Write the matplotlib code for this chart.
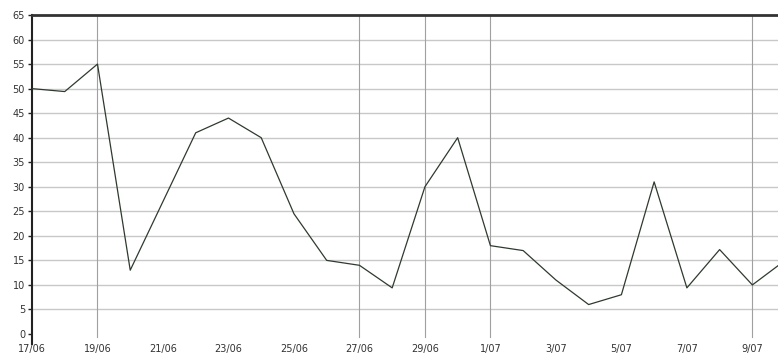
import matplotlib
matplotlib.use("Agg")
import matplotlib.pyplot as plt

# daily values, 17/06 .. 10/07
days = list(range(24))
values = [50, 49.4, 55, 13, 27, 41, 44, 40, 24.5, 15, 14, 9.4, 30, 40,
          18, 17, 11, 6, 8, 31, 9.4, 17.2, 10, 15]

tick_days = [0, 2, 4, 6, 8, 10, 12, 14, 16, 18, 20, 22]
tick_labels = ["17/06", "19/06", "21/06", "23/06", "25/06", "27/06",
               "29/06", "1/07", "3/07", "5/07", "7/07", "9/07"]
vgrid_days = [2, 10, 12, 14, 22]
y_ticks = list(range(0, 70, 5))

fig = plt.figure(figsize=(7.78, 3.56), dpi=100)
ax = fig.add_axes([32 / 778, 1 - 334 / 356, 1 - 32 / 778, (334 - 15) / 356])

for y in y_ticks[1:-1]:
    ax.axhline(y, color="#c8c8c8", lw=1, zorder=1)
for d in vgrid_days:
    ax.axvline(d, ymin=-0.01, color="#a0a0a0", lw=0.8, zorder=1, clip_on=False)

ax.plot(days, values, color="#2f3a2f", lw=0.9, zorder=3)

ax.set_xlim(0, (778 - 33) / 32.7)
ax.set_ylim(0, 65)
ax.set_yticks(y_ticks)
ax.set_yticklabels([str(v) for v in y_ticks])
ax.set_xticks(tick_days)
ax.set_xticklabels(tick_labels)
ax.tick_params(axis="y", length=3, width=1, color="#222222", labelsize=7,
               labelcolor="#333333", pad=2)
ax.tick_params(axis="x", length=0, labelsize=7, labelcolor="#333333", pad=7)

ax.spines["right"].set_visible(False)
ax.spines["bottom"].set_visible(False)
ax.spines["top"].set_color("#333333")
ax.spines["top"].set_linewidth(2)
ax.spines["left"].set_color("#222222")
ax.spines["left"].set_linewidth(1.5)
ax.spines["left"].set_bounds(-2, 65)

fig.savefig("out.png", dpi=100)
